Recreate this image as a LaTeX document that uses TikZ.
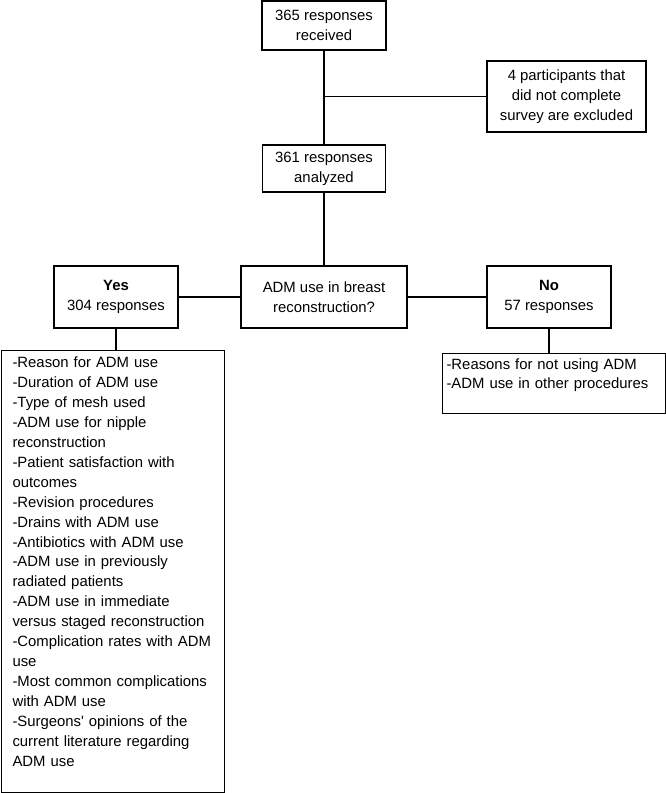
\documentclass[tikz,border=0pt]{standalone}
\usepackage{fontspec}
\setmainfont{Liberation Sans}
\usetikzlibrary{positioning}

\tikzset{
  flowbox/.style={draw, line width=0.9pt, align=center, inner sep=2pt},
  listbox/.style={draw, line width=0.9pt, align=left, anchor=north west},
  link/.style={line width=0.9pt}
}

\begin{document}
\begin{tikzpicture}[x=0.3mm, y=-0.3mm, every node/.style={font=\fontsize{12.7}{17}\selectfont}]
    \useasboundingbox (0,0) rectangle (666,793);

    % Screening
    \node[flowbox, minimum width=37.2mm, minimum height=14.7mm] (recv) at (324,25.5) {365 responses\\received};
    \node[flowbox, minimum width=47.7mm, minimum height=21.3mm] (excl) at (566.5,96.5) {4 participants that\\did not complete\\survey are excluded};
    \node[flowbox, minimum width=36.9mm, minimum height=14.1mm] (anal) at (324,168.5) {361 responses\\analyzed};
    \coordinate (split) at (recv.south |- excl.west);

    % Question and answers
    \node[flowbox, minimum width=49.8mm, minimum height=18.6mm] (adm) at (324,297) {ADM use in breast\\reconstruction?};
    \node[flowbox, minimum width=37.2mm, minimum height=18.6mm] (yes) at (116,297) {\textbf{Yes}\\304 responses};
    \node[flowbox, minimum width=37.2mm, minimum height=18.6mm] (no) at (549,297) {\textbf{No}\\57 responses};

    % Survey topics
    \node[listbox, inner xsep=3.3mm, text width=60.3mm, minimum height=132.6mm] (yeslist) at (1,350) {%
        -Reason for ADM use\\
        -Duration of ADM use\\
        -Type of mesh used\\
        -ADM use for nipple\\
        reconstruction\\
        -Patient satisfaction with\\
        outcomes\\
        -Revision procedures\\
        -Drains with ADM use\\
        -Antibiotics with ADM use\\
        -ADM use in previously\\
        radiated patients\\
        -ADM use in immediate\\
        versus staged reconstruction\\
        -Complication rates with ADM\\
        use\\
        -Most common complications\\
        with ADM use\\
        -Surgeons\textquotesingle{} opinions of the\\
        current literature regarding\\
        ADM use\\ \mbox{}};
    \node[listbox, inner xsep=1.2mm, text width=64.5mm, minimum height=18mm] (nolist) at (442,353) {%
        -Reasons for not using ADM\\
        -ADM use in other procedures\\ \mbox{}};

    % Connectors
    \draw[link] (recv.south) -- (anal.north);
    \draw[link] (split) -- (excl.west);
    \draw[link] (anal.south) -- (adm.north);
    \draw[link] (adm.west) -- (yes.east);
    \draw[link] (adm.east) -- (no.west);
    \draw[link] (yes.south) -- (yes.south |- yeslist.north);
    \draw[link] (no.south) -- (no.south |- nolist.north);
\end{tikzpicture}
\end{document}
